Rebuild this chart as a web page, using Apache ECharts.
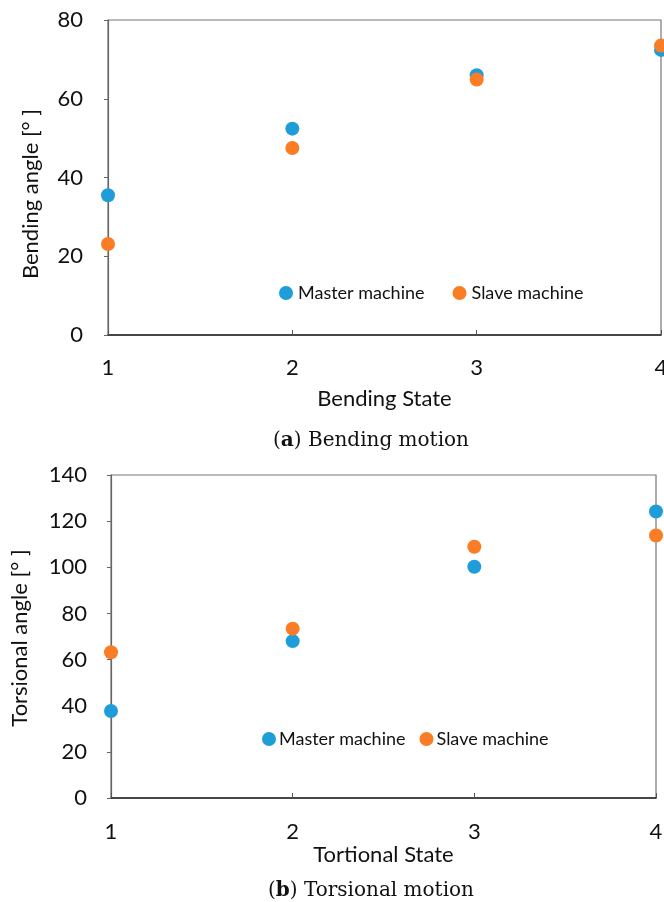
<!DOCTYPE html>
<html><head><meta charset="utf-8">
<script src="https://cdn.jsdelivr.net/npm/echarts@6/dist/echarts.min.js"></script>
<style>html,body{margin:0;padding:0;background:#fff}#c{width:664px;height:902px}</style>
</head><body><div id="c"></div>
<script>
var states = [1, 2, 3, 4];
var bendMaster = [35.5, 52.4, 66.0, 72.4];
var bendSlave = [23.1, 47.5, 64.9, 73.5];
var torsMaster = [37.7, 68.0, 100.2, 124.2];
var torsSlave = [63.2, 73.4, 108.9, 113.8];
var bendTicks = [0, 20, 40, 60, 80];
var torsTicks = [0, 20, 40, 60, 80, 100, 120, 140];

var BLUE = '#1f9dd9', ORANGE = '#fa7d25';
var SANS = 'Lato, "Open Sans", sans-serif';
var SERIF = '"DejaVu Serif", serif';

function pairs(xs, ys){ return xs.map(function(x,i){ return [x, ys[i]]; }); }

function xAxisCfg(grid, name, gap, margin){
  return {
    type:'value', gridIndex:grid, min:1, max:4, interval:1,
    name:name, nameLocation:'middle', nameGap:gap,
    nameTextStyle:{fontFamily:SANS, fontSize:22, color:'#111'},
    axisLine:{show:true, lineStyle:{color:'#222', width:1.5}},
    axisTick:{show:true, inside:true, length:5, lineStyle:{color:'#555'}},
    axisLabel:{fontFamily:SANS, fontSize:22, color:'#111', margin:margin},
    splitLine:{show:false}
  };
}
function yAxisCfg(grid, ticks, margin){
  return {
    type:'value', gridIndex:grid, min:ticks[0], max:ticks[ticks.length-1], interval:ticks[1]-ticks[0],
    axisLine:{show:true, lineStyle:{color:'#666', width:1.2}},
    axisTick:{show:true, inside:false, length:4, lineStyle:{color:'#666'}},
    axisLabel:{fontFamily:SANS, fontSize:22, color:'#111', margin:margin},
    splitLine:{show:false}
  };
}
function sc(name, x, y, data, color){
  return {type:'scatter', name:name, xAxisIndex:x, yAxisIndex:y, data:data,
    symbol:'circle', symbolSize:14, itemStyle:{color:color, opacity:1}, clip:false};
}

var chart = echarts.init(document.getElementById('c'), null, {renderer:'canvas'});
chart.setOption({
  animation:false,
  backgroundColor:'#fff',
  grid:[
    {left:108, right:3, top:20, height:315, show:true, borderColor:'#777', borderWidth:1.2, backgroundColor:'transparent', containLabel:false, outerBoundsMode:'none'},
    {left:111, right:8, top:475, height:323, show:true, borderColor:'#777', borderWidth:1.2, backgroundColor:'transparent', containLabel:false, outerBoundsMode:'none'}
  ],
  xAxis:[ xAxisCfg(0, 'Bending State', 53, 22), xAxisCfg(1, 'Tortional State', 43, 23) ],
  yAxis:[ yAxisCfg(0, bendTicks, 25), yAxisCfg(1, torsTicks, 24) ],
  legend:[
    {left:279, top:284, padding:0, itemWidth:14, itemHeight:14, itemGap:28, icon:'circle',
     textStyle:{fontFamily:SANS, fontSize:18, color:'#111'}, data:['Master machine','Slave machine']},
    {left:262, top:730, padding:0, itemWidth:14, itemHeight:14, itemGap:14, icon:'circle',
     textStyle:{fontFamily:SANS, fontSize:18, color:'#111', padding:[0,0,0,-2]}, data:['Master machine','Slave machine']}
  ],
  title:[
    {text:'({b|a}) Bending motion', left:366, top:426, textAlign:'center',
     textStyle:{fontFamily:SERIF, fontSize:20, fontWeight:'normal', color:'#111',
       rich:{b:{fontFamily:SERIF, fontSize:20, fontWeight:'bold', color:'#111'}}}},
    {text:'({b|b}) Torsional motion', left:366, top:876, textAlign:'center',
     textStyle:{fontFamily:SERIF, fontSize:20, fontWeight:'normal', color:'#111',
       rich:{b:{fontFamily:SERIF, fontSize:20, fontWeight:'bold', color:'#111'}}}}
  ],
  graphic:[
    {type:'text', x:31, y:194, rotation:Math.PI/2,
     style:{text:'Bending angle [° ]', fontFamily:SANS, fontSize:22, fill:'#111', align:'center', verticalAlign:'middle'}},
    {type:'text', x:20, y:638, rotation:Math.PI/2,
     style:{text:'Torsional angle [° ]', fontFamily:SANS, fontSize:22, fill:'#111', align:'center', verticalAlign:'middle'}}
  ],
  series:[
    sc('Master machine', 0, 0, pairs(states, bendMaster), BLUE),
    sc('Slave machine', 0, 0, pairs(states, bendSlave), ORANGE),
    sc('Master machine', 1, 1, pairs(states, torsMaster), BLUE),
    sc('Slave machine', 1, 1, pairs(states, torsSlave), ORANGE)
  ]
});
</script></body></html>
